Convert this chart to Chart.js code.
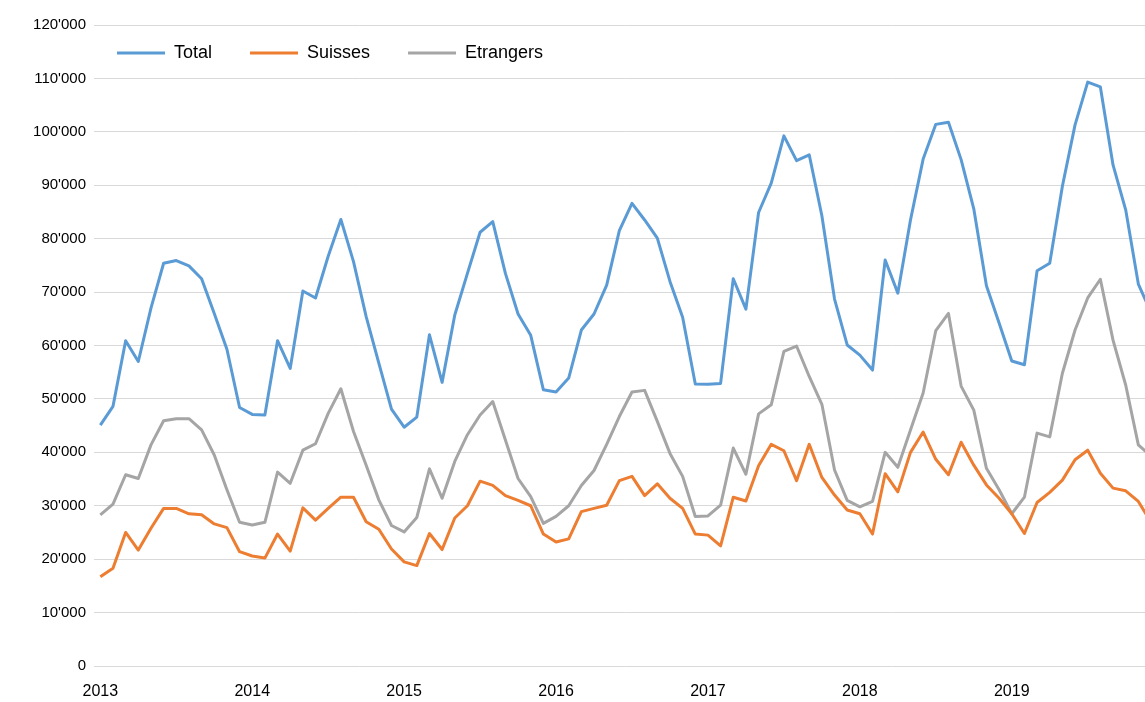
<!DOCTYPE html>
<html lang="fr">
<head>
  <meta charset="UTF-8">
  <title>Total, Suisses, Etrangers</title>
  <script src="https://cdn.jsdelivr.net/npm/chart.js"></script>
  <style>
    html, body { margin: 0; background: #fff; overflow: hidden; }
    #wrap { width: 1145px; height: 702px; overflow: hidden; }
    canvas { display: block; }
  </style>
</head>
<body>
<div id="wrap"><canvas id="chart" width="1167" height="702"></canvas></div>
<script>
// one label per year, monthly points from Jan 2013 to Dec 2019
const years = ['2013', '2014', '2015', '2016', '2017', '2018', '2019'];

const total = [
  45100, 48600, 60900, 57000, 67000, 75400, 75900, 74900, 72500, 66000, 59300, 48400,
  47100, 47000, 60900, 55700, 70200, 68900, 76700, 83600, 75700, 65400, 56700, 48100,
  44700, 46600, 62000, 53100, 65700, 73500, 81200, 83200, 73500, 65900, 61900, 51700,
  51300, 53900, 62900, 65900, 71300, 81500, 86600, 83500, 80100, 72000, 65300, 52800,
  52750, 52900, 72500, 66800, 84900, 90400, 99250, 94600, 95700, 84300, 68700, 60100,
  58200, 55400, 76000, 69800, 83500, 94900, 101400, 101800, 94800, 85600, 71200, 64200,
  57100, 56400, 74000, 75400, 89800, 101300, 109300, 108400, 93800, 85400, 71500, 66200
];

const suisses = [
  16700, 18300, 25000, 21700, 25800, 29500, 29500, 28500, 28300, 26600, 25900, 21400,
  20600, 20200, 24700, 21500, 29600, 27300, 29500, 31600, 31600, 27000, 25600, 21900,
  19500, 18800, 24800, 21800, 27700, 30000, 34600, 33800, 31900, 31000, 30000, 24700,
  23200, 23800, 28900, 29500, 30100, 34700, 35500, 31900, 34100, 31400, 29500, 24700,
  24500, 22500, 31600, 30900, 37500, 41500, 40300, 34700, 41500, 35300, 32000, 29200,
  28500, 24700, 36000, 32600, 40000, 43800, 38700, 35800, 41900, 37600, 33900, 31400,
  28500, 24800, 30600, 32500, 34800, 38600, 40400, 36100, 33300, 32800, 30800, 26900
];

const etrangers = [
  28300, 30300, 35800, 35100, 41400, 45900, 46300, 46300, 44200, 39500, 33000, 26900,
  26400, 26900, 36300, 34200, 40400, 41600, 47300, 51900, 43900, 37600, 31100, 26300,
  25100, 27800, 36900, 31400, 38300, 43300, 47000, 49500, 42300, 35100, 31700, 26700,
  28000, 30000, 33800, 36600, 41500, 46700, 51300, 51600, 45800, 39800, 35500, 28000,
  28100, 30100, 40800, 35900, 47200, 48900, 58900, 59900, 54200, 49000, 36700, 31000,
  29800, 30800, 40000, 37200, 44200, 51100, 62800, 66000, 52400, 47900, 37000, 33000,
  28500, 31600, 43600, 42900, 54800, 62900, 68900, 72400, 61000, 52600, 41400, 39300
];

const yMax = 120000;
const yStep = 10000;

let labels = [];
years.forEach(y => {
  for (let m = 1; m <= 12; m++) labels.push(y + '-' + String(m).padStart(2, '0'));
});

function fmt(v) {
  return String(v).replace(/\B(?=(\d{3})+(?!\d))/g, "'");
}

const family = '"Liberation Sans", Arial, sans-serif';
const legendSize = 18;

// the legend sits inside the plot, top left, and takes no room of its own
const legendPlace = {
  id: 'legendPlace',
  beforeLayout(chart) {
    const lg = chart.legend;
    if (lg && !lg._flat) {
      const fit = lg.fit;
      lg.fit = function () { fit.call(this); this.height = 0; };
      lg._flat = true;
    }
  },
  afterLayout(chart) {
    const lg = chart.legend;
    const pad = lg.options.labels.padding;
    lg.left = 117 - pad;
    lg.right = lg.left + 1000;
    lg.top = 53 - pad - legendSize / 2;
    lg.bottom = lg.top + 2 * pad + legendSize;
  }
};

new Chart(document.getElementById('chart'), {
  type: 'line',
  data: {
    labels,
    datasets: [
      { label: 'Total', data: total, borderColor: '#5b9bd5', backgroundColor: '#5b9bd5' },
      { label: 'Suisses', data: suisses, borderColor: '#ed7d31', backgroundColor: '#ed7d31' },
      { label: 'Etrangers', data: etrangers, borderColor: '#a5a5a5', backgroundColor: '#a5a5a5' }
    ]
  },
  options: {
    responsive: false,
    animation: false,
    layout: { padding: { top: 25, left: 0, right: 0, bottom: 0 } },
    elements: {
      line: { borderWidth: 3, tension: 0, borderJoinStyle: 'round', fill: false },
      point: { radius: 0, hoverRadius: 0, borderWidth: 3 }
    },
    plugins: {
      tooltip: { enabled: false },
      legend: {
        position: 'top',
        align: 'start',
        labels: {
          usePointStyle: true,
          pointStyle: 'line',
          pointStyleWidth: 48,
          padding: 38,
          color: '#000',
          font: { family, size: legendSize }
        }
      }
    },
    scales: {
      x: {
        offset: true,
        grid: { display: false, drawTicks: false },
        border: { display: false },
        ticks: {
          autoSkip: false,
          maxRotation: 0,
          minRotation: 0,
          padding: 16,
          color: '#000',
          font: { family, size: 16 },
          callback: (v, i) => (i % 12 === 0 ? years[i / 12] : '')
        },
        afterFit: s => { s.height = 36; }
      },
      y: {
        min: 0,
        max: yMax,
        grid: { color: '#d9d9d9', lineWidth: 1, drawTicks: false },
        border: { display: false },
        ticks: {
          stepSize: yStep,
          padding: 8,
          color: '#000',
          font: { family, size: 15 },
          callback: v => fmt(v)
        },
        afterFit: s => { s.width = 94; }
      }
    }
  },
  plugins: [legendPlace]
});
</script>
</body>
</html>
